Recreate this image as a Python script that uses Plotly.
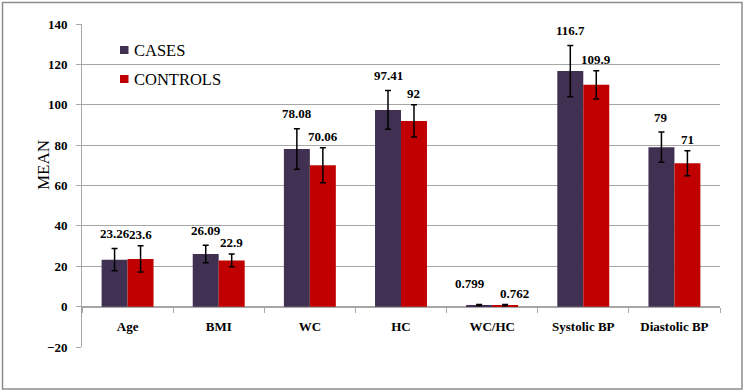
import plotly.graph_objects as go

categories = ["Age", "BMI", "WC", "HC", "WC/HC", "Systolic BP", "Diastolic BP"]
cases = [23.26, 26.09, 78.08, 97.41, 0.799, 116.7, 79]
controls = [23.6, 22.9, 70.06, 92, 0.762, 109.9, 71]
cases_err = [5.5, 4.3, 10.0, 9.6, 0.3, 12.7, 7.5]
controls_err = [6.5, 3.2, 8.7, 8.0, 0.3, 7.0, 6.2]
y_ticks = [-20, 0, 20, 40, 60, 80, 100, 120, 140]
legend_names = ["CASES", "CONTROLS"]

C_CASES = "#403152"
C_CTRL = "#C00000"
SERIF = "Liberation Serif"
GRID = "#A6A6A6"

W, H = 746, 392
L, R, T, B = 82, 26, 24, 45
pw, ph = W - L - R, H - T - B

# label placement tweaks (pixels): uniform lift per series, plus nudges to
# keep the two tiny WC/HC labels apart as in the original
LABEL_LIFT = [15, 11]
LABEL_NUDGE = {("WC/HC", 0): (-9, 6), ("WC/HC", 1): (9, 0)}


def px_x(p):
    return (p - L) / pw


def px_y(p):
    return (H - B - p) / ph


fig = go.Figure()
fig.add_trace(go.Bar(
    name=legend_names[0], x=categories, y=cases, marker_color=C_CASES, marker_line_width=0,
    error_y=dict(type="data", array=cases_err, color="black", thickness=1.5, width=3),
))
fig.add_trace(go.Bar(
    name=legend_names[1], x=categories, y=controls, marker_color=C_CTRL, marker_line_width=0,
    error_y=dict(type="data", array=controls_err, color="black", thickness=1.5, width=3),
))

bar_px = pw / len(categories) * (1 - 0.43) / 2
for s, (vals, errs, sign) in enumerate([(cases, cases_err, -1), (controls, controls_err, 1)]):
    for c, v, e in zip(categories, vals, errs):
        nx, ny = LABEL_NUDGE.get((c, s), (0, 0))
        fig.add_annotation(
            x=c, y=v + e, xref="x", yref="y", text=f"{v:g}", showarrow=False,
            xshift=sign * bar_px / 2 + nx, yshift=LABEL_LIFT[s] + ny,
            yanchor="middle", xanchor="center",
            font=dict(family=SERIF, size=13, color="black", weight="bold"),
        )

fig.add_annotation(
    x=px_x(43), y=px_y(165), xref="paper", yref="paper",
    text="MEAN", textangle=-90, showarrow=False, xanchor="center", yanchor="middle",
    font=dict(family=SERIF, size=17, color="black"),
)

# legend drawn manually (square + label)
for i, (name, col) in enumerate(zip(legend_names, [C_CASES, C_CTRL])):
    cy = 50 + 29 * i
    fig.add_shape(type="rect", xref="paper", yref="paper",
                  x0=px_x(120), x1=px_x(128.5), y0=px_y(cy + 4), y1=px_y(cy - 4),
                  line_width=0, fillcolor=col)
    fig.add_annotation(x=px_x(132), y=px_y(cy), xref="paper", yref="paper",
                       text=name, showarrow=False, xanchor="left", yanchor="middle",
                       font=dict(family=SERIF, size=16.5, color="black"))

fig.add_shape(
    type="rect", xref="paper", yref="paper",
    x0=px_x(2.5), x1=px_x(742), y0=px_y(389), y1=px_y(2.5),
    line=dict(color="#8C8C8C", width=1.5), fillcolor="rgba(0,0,0,0)", layer="above",
)

fig.update_layout(
    width=W, height=H,
    margin=dict(l=L, r=R, t=T, b=B, autoexpand=False),
    plot_bgcolor="white", paper_bgcolor="white",
    barmode="group", bargap=0.43, bargroupgap=0,
    showlegend=False,
    font=dict(family=SERIF),
    xaxis=dict(
        anchor="free", position=20 / 160,
        showline=True, linecolor=GRID, linewidth=1,
        ticks="outside", tickson="boundaries", ticklen=5, tickcolor=GRID,
        tickfont=dict(family=SERIF, size=13, color="black", weight="bold"),
        ticklabelstandoff=8, showgrid=False,
    ),
    yaxis=dict(
        range=[-20, 140], tickvals=y_ticks,
        showline=True, linecolor=GRID, linewidth=1,
        ticks="outside", ticklen=5, tickcolor=GRID,
        showgrid=True, gridcolor=GRID, gridwidth=1, zeroline=False,
        tickfont=dict(family=SERIF, size=13, color="black", weight="bold"),
        ticklabelstandoff=6,
    ),
)

fig.write_html("out.html", post_script="document.body.style.margin='0';",
               config={"displayModeBar": False})
